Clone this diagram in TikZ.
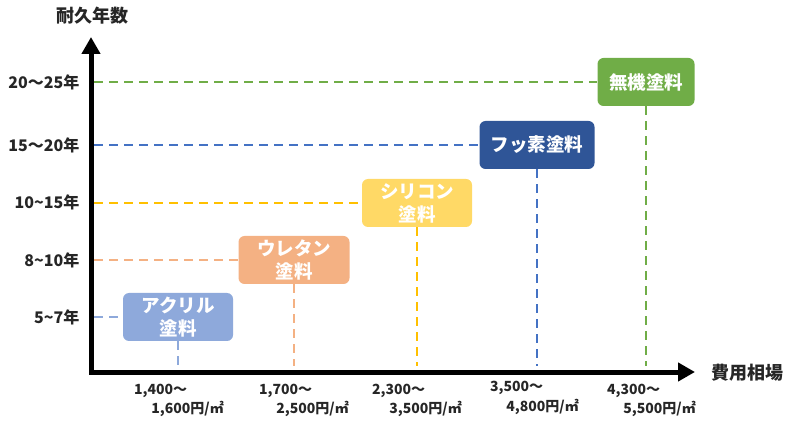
\documentclass[tikz,border=0pt]{standalone}
\usepackage{fontspec}
\setmainfont{Noto Sans CJK JP}
\usetikzlibrary{arrows.meta,calc}
\definecolor{labelc}{HTML}{262626}
\definecolor{acrylc}{HTML}{8EA9DB}
\definecolor{urethc}{HTML}{F4B183}
\definecolor{silic}{HTML}{FFD966}
\definecolor{silil}{HTML}{FFC000}
\definecolor{fluoc}{HTML}{2F5597}
\definecolor{fluol}{HTML}{4472C4}
\definecolor{inorc}{HTML}{70AD47}
\tikzset{every picture/.style={x=1pt,y=-1pt}}
\tikzset{guide/.style={line width=2pt,dash pattern=on 9pt off 6pt}}
\tikzset{paint/.style={rounded corners=6pt,text=white,align=center,inner sep=0pt,
  minimum height=48pt,font=\bfseries\fontsize{18.5}{23}\selectfont}}
\tikzset{tick label/.style={anchor=east,text=labelc,font=\bfseries\fontsize{16}{16}\selectfont}}
\tikzset{cost label/.style={text=labelc,inner sep=0pt,font=\bfseries\fontsize{14}{14}\selectfont}}
\tikzset{axis title/.style={text=labelc,font=\bfseries\fontsize{18}{18}\selectfont}}

\begin{document}
\begin{tikzpicture}
  \useasboundingbox (0,0) rectangle (800,427);
  \coordinate (o) at (91,372);
  \coordinate (ytip) at (91,37);
  \coordinate (xtip) at (695,372);
  \draw[line width=5pt,{Triangle[length=17pt,width=18pt]}-{Triangle[length=17pt,width=18pt]}]
    (ytip) -- (o) -- (xtip);
  \node[axis title] (ytitle) at (92,16) {耐久年数};
  \node[axis title] (xtitle) at (747,373) {費用相場};

  \node[tick label] (t5) at (83,317) {5\textasciitilde7年};
  \node[tick label] (t8) at (83,260) {8\textasciitilde10年};
  \node[tick label] (t10) at (83,202) {10\textasciitilde15年};
  \node[tick label] (t15) at (83,145) {15〜20年};
  \node[tick label] (t20) at (83,82) {20〜25年};

  \node[paint,fill=acrylc,minimum width=110pt] (acryl) at (178,317) {アクリル\\塗料};
  \node[paint,fill=urethc,minimum width=111pt] (ureth) at (294,260) {ウレタン\\塗料};
  \node[paint,fill=silic,minimum width=110pt] (sili) at (417,203) {シリコン\\塗料};
  \node[paint,fill=fluoc,minimum width=115pt] (fluo) at (537,145) {フッ素塗料};
  \node[paint,fill=inorc,minimum width=97pt] (inor) at (646,82) {無機塗料};

  \draw[guide,acrylc,shorten <=3pt] (o |- acryl) -- (acryl);
  \draw[guide,urethc,shorten <=3pt] (o |- ureth) -- (ureth);
  \draw[guide,silil,shorten <=3pt] (o |- sili) -- (sili);
  \draw[guide,fluol,shorten <=3pt] (o |- fluo) -- (fluo);
  \draw[guide,inorc,shorten <=3pt] (o |- inor) -- (inor);
  \draw[guide,acrylc,shorten >=6pt] (acryl) -- (acryl |- o);
  \draw[guide,urethc,shorten >=6pt] (ureth) -- (ureth |- o);
  \draw[guide,silil,shorten >=6pt] (sili) -- (sili |- o);
  \draw[guide,fluol,shorten >=6pt] (fluo) -- (fluo |- o);
  \draw[guide,inorc,shorten >=6pt] (inor) -- (inor |- o);

  \node[cost label,anchor=west] (c1a) at (134,391) {1,400〜};
  \node[cost label,anchor=east] (c1b) at (224,409) {1,600円/㎡};
  \node[cost label,anchor=west] (c2a) at (259,391) {1,700〜};
  \node[cost label,anchor=east] (c2b) at (349,409) {2,500円/㎡};
  \node[cost label,anchor=west] (c3a) at (372,391) {2,300〜};
  \node[cost label,anchor=east] (c3b) at (462,409) {3,500円/㎡};
  \node[cost label,anchor=west] (c4a) at (490,388) {3,500〜};
  \node[cost label,anchor=east] (c4b) at (579,407) {4,800円/㎡};
  \node[cost label,anchor=west] (c5a) at (607,391) {4,300〜};
  \node[cost label,anchor=east] (c5b) at (696,409) {5,500円/㎡};
\end{tikzpicture}
\end{document}
